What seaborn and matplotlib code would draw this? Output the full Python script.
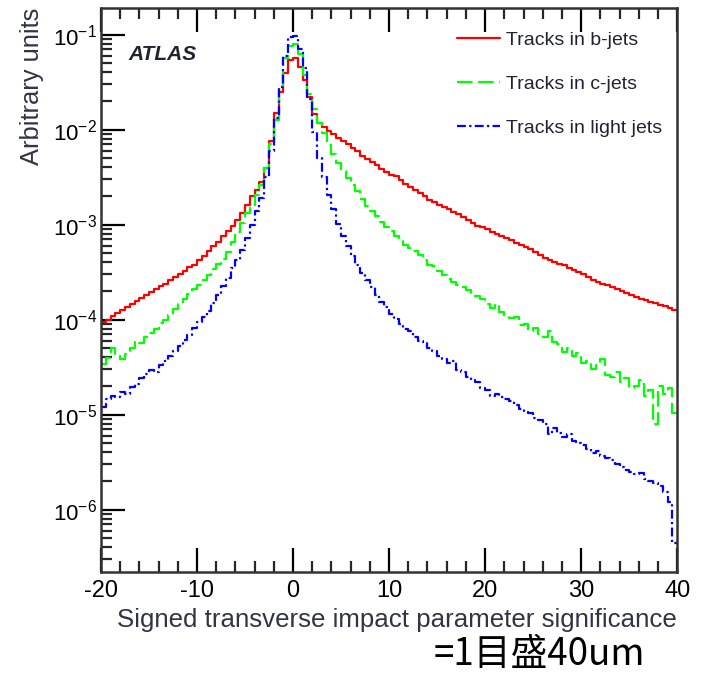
import numpy as np
import pandas as pd
import matplotlib
matplotlib.use("Agg")
import matplotlib.pyplot as plt
import seaborn as sns
from matplotlib.ticker import FixedLocator, LogLocator, NullFormatter, FuncFormatter

# ---------------- data (log10 of bin contents, bins of width 0.5 from -20 to 40) -------------
bin_width = 0.5
x_min, x_max = -20, 40

b_jets_log = [
    -4.03, -4.00, -3.96, -3.93, -3.90, -3.87, -3.84, -3.80, -3.77, -3.74,
    -3.71, -3.68, -3.65, -3.62, -3.58, -3.55, -3.52, -3.49, -3.45, -3.42,
    -3.37, -3.33, -3.28, -3.23, -3.18, -3.12, -3.07, -3.01, -2.95, -2.88,
    -2.79, -2.70, -2.64, -2.55, -2.40, -2.12, -1.82, -1.60, -1.40, -1.27,
    -1.25, -1.34, -1.48, -1.66, -1.84, -1.93, -1.97, -2.01, -2.05, -2.09,
    -2.12, -2.15, -2.19, -2.23, -2.28, -2.31, -2.34, -2.37, -2.41, -2.45,
    -2.48, -2.49, -2.53, -2.57, -2.60, -2.64, -2.67, -2.70, -2.74, -2.76,
    -2.79, -2.81, -2.84, -2.87, -2.89, -2.92, -2.95, -2.98, -3.01, -3.03,
    -3.05, -3.08, -3.10, -3.12, -3.14, -3.16, -3.19, -3.21, -3.24, -3.26,
    -3.29, -3.32, -3.35, -3.37, -3.39, -3.41, -3.43, -3.46, -3.48, -3.50,
    -3.52, -3.55, -3.58, -3.60, -3.62, -3.64, -3.66, -3.68, -3.70, -3.72,
    -3.74, -3.76, -3.78, -3.79, -3.81, -3.83, -3.85, -3.86, -3.88, -3.90,
]

c_jets_log = [
    -4.47, -4.40, -4.30, -4.38, -4.41, -4.36, -4.30, -4.23, -4.25, -4.18,
    -4.14, -4.10, -4.04, -4.00, -3.95, -3.89, -3.84, -3.78, -3.73, -3.68,
    -3.64, -3.58, -3.53, -3.47, -3.41, -3.36, -3.29, -3.18, -3.08, -2.98,
    -2.88, -2.79, -2.69, -2.58, -2.40, -2.15, -1.90, -1.55, -1.25, -1.12,
    -1.10, -1.20, -1.42, -1.62, -1.78, -1.93, -2.04, -2.16, -2.26, -2.35,
    -2.44, -2.51, -2.58, -2.65, -2.73, -2.80, -2.86, -2.91, -2.97, -3.03,
    -3.07, -3.12, -3.17, -3.21, -3.25, -3.28, -3.32, -3.37, -3.42, -3.44,
    -3.49, -3.53, -3.57, -3.60, -3.64, -3.66, -3.69, -3.72, -3.75, -3.78,
    -3.84, -3.88, -3.84, -3.92, -3.95, -3.98, -3.97, -4.06, -4.05, -4.12,
    -4.09, -4.15, -4.18, -4.12, -4.24, -4.26, -4.34, -4.30, -4.38, -4.35,
    -4.46, -4.44, -4.52, -4.48, -4.42, -4.58, -4.60, -4.55, -4.66, -4.62,
    -4.72, -4.70, -4.64, -4.80, -4.74, -5.10, -4.70, -4.78, -4.72, -4.98,
]

light_jets_log = [
    -4.92, -4.84, -4.80, -4.82, -4.76, -4.78, -4.71, -4.68, -4.62, -4.57,
    -4.53, -4.55, -4.48, -4.44, -4.38, -4.33, -4.28, -4.22, -4.16, -4.09,
    -4.03, -3.97, -3.91, -3.83, -3.74, -3.65, -3.56, -3.46, -3.37, -3.27,
    -3.14, -3.00, -2.86, -2.72, -2.50, -2.22, -1.88, -1.55, -1.22, -1.03,
    -1.01, -1.15, -1.35, -1.68, -2.02, -2.30, -2.50, -2.69, -2.84, -2.99,
    -3.12, -3.22, -3.33, -3.42, -3.51, -3.58, -3.66, -3.74, -3.81, -3.87,
    -3.94, -3.99, -4.05, -4.10, -4.12, -4.18, -4.23, -4.24, -4.30, -4.33,
    -4.38, -4.41, -4.46, -4.44, -4.53, -4.55, -4.60, -4.64, -4.66, -4.72,
    -4.74, -4.80, -4.78, -4.82, -4.84, -4.86, -4.90, -4.94, -4.97, -4.98,
    -5.04, -5.06, -5.10, -5.20, -5.14, -5.19, -5.24, -5.20, -5.28, -5.30,
    -5.32, -5.36, -5.40, -5.38, -5.44, -5.46, -5.48, -5.52, -5.55, -5.58,
    -5.60, -5.63, -5.62, -5.68, -5.70, -5.72, -5.75, -5.82, -5.92, -6.35,
]

series_labels = ["Tracks in b-jets", "Tracks in c-jets", "Tracks in light jets"]
x_ticks = [-20, -10, 0, 10, 20, 30, 40]
y_tick_exps = [-6, -5, -4, -3, -2, -1]

# ---------------- build long table (step histogram via bin edges) ----------------
edges = np.arange(x_min, x_max + bin_width / 2, bin_width)
frames = []
for lab, vals in zip(series_labels, [b_jets_log, c_jets_log, light_jets_log]):
    v = 10.0 ** np.array(vals)
    v = np.append(v, v[-1])
    frames.append(pd.DataFrame({"x": edges, "y": v, "series": lab}))
df = pd.concat(frames, ignore_index=True)

# ---------------- figure ----------------
sns.set_theme(style="ticks")
plt.rcParams["font.family"] = ["Liberation Sans", "DejaVu Sans"]

fig = plt.figure(figsize=(7.01, 6.77), dpi=100)
ax = fig.add_axes([0.144, 0.155, 0.822, 0.833])

palette = {series_labels[0]: "#ff0000", series_labels[1]: "#00ff00", series_labels[2]: "#0000ff"}
dashes = {series_labels[0]: "", series_labels[1]: (7, 2.5), series_labels[2]: (4, 1.5, 1, 1.5)}

sns.lineplot(data=df, x="x", y="y", hue="series", style="series",
             palette=palette, dashes=dashes, drawstyle="steps-post",
             linewidth=1.6, ax=ax, sort=False, estimator=None)

ax.set_yscale("log")
ax.set_xlim(x_min, x_max)
ax.set_ylim(2.2e-7, 0.19)

ax.xaxis.set_major_locator(FixedLocator(x_ticks))
ax.xaxis.set_minor_locator(FixedLocator(np.arange(-20, 41, 2)))
ax.yaxis.set_major_locator(FixedLocator([10.0 ** e for e in y_tick_exps]))
ax.yaxis.set_minor_locator(LogLocator(base=10, subs=np.arange(2, 10)))
ax.yaxis.set_minor_formatter(NullFormatter())
ax.yaxis.set_major_formatter(FuncFormatter(lambda v, p: r"$\mathregular{10^{%d}}$" % int(round(np.log10(v)))))
ax.xaxis.set_major_formatter(FuncFormatter(lambda v, p: "%d" % v))

ax.tick_params(axis="both", which="major", direction="in", length=17, width=1.6,
               labelsize=17, colors="black", top=True, right=False, pad=6)
ax.tick_params(axis="both", which="minor", direction="in", length=8, width=1.6,
               top=True, right=False)
ax.tick_params(axis="y", which="major", labelsize=16, pad=3)
for s in ax.spines.values():
    s.set_linewidth(1.8)
    s.set_color("#333333")

ax.set_xlabel("Signed transverse impact parameter significance", fontsize=18.6,
              loc="right", labelpad=4, color="#333344")
ax.set_ylabel("Arbitrary units", fontsize=18.4, loc="top", labelpad=6, color="#333344")

ax.text(0.047, 0.918, "ATLAS", transform=ax.transAxes, fontsize=15,
        fontweight="bold", fontstyle="italic", va="center", ha="left", color="#222233")

leg = ax.legend(loc="upper right", bbox_to_anchor=(0.995, 0.979), frameon=False,
                fontsize=14, handlelength=2.2, handletextpad=0.35, labelspacing=1.35,
                borderaxespad=0.2)
for t in leg.get_texts():
    t.set_color("#222233")

fig.text(0.769, 0.004, "=1目盛40um", fontsize=26.5, ha="center", va="bottom",
         family=["Noto Sans CJK JP", "DejaVu Sans"], color="black")

fig.savefig("out.png", dpi=100)
